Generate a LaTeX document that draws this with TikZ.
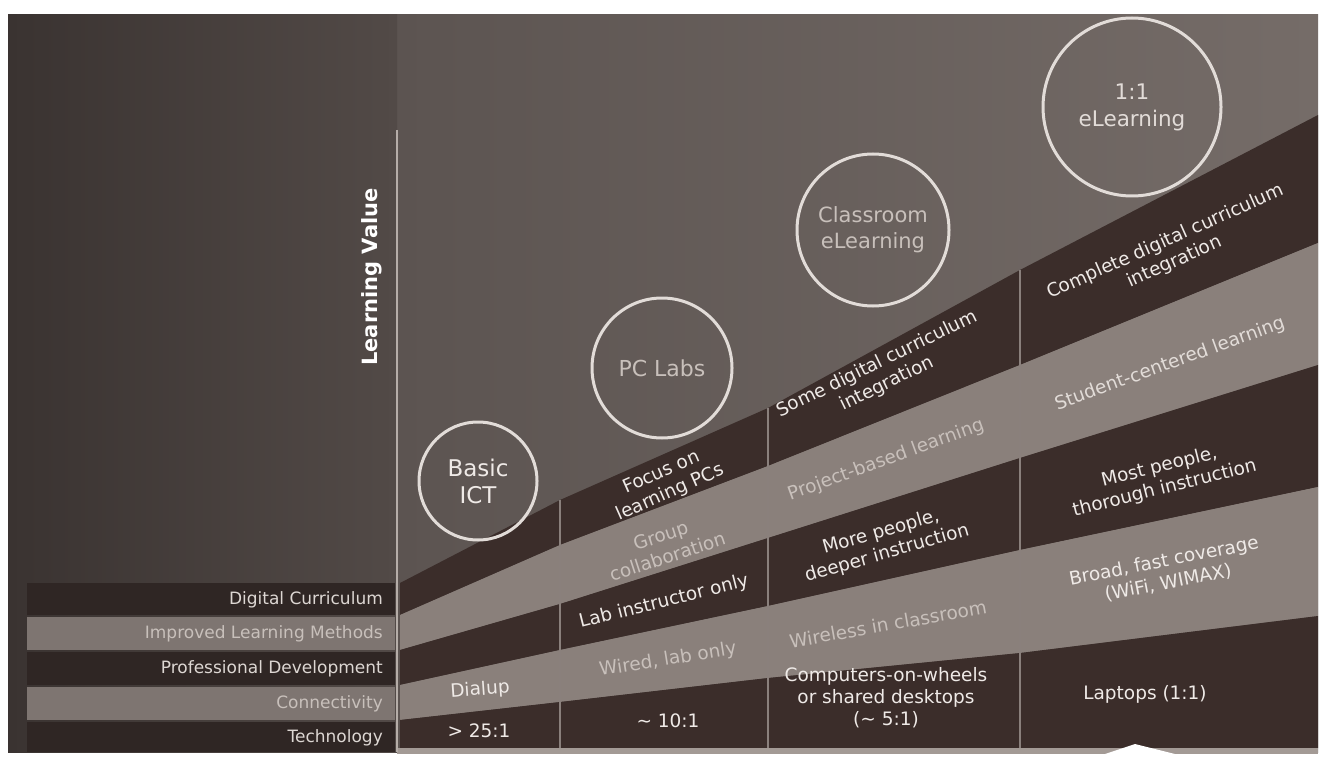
\documentclass[tikz,border=0pt]{standalone}
\usepackage{fontspec}
\setmainfont{DejaVu Sans}
\definecolor{bgmidL}{HTML}{5C5451}
\definecolor{bgmidR}{HTML}{756C68}
\definecolor{bgdark}{HTML}{3A3331}
\definecolor{bgdarkR}{HTML}{524A47}
\definecolor{bandD}{HTML}{3B2D2A}
\definecolor{bandL}{HTML}{8A807B}
\definecolor{lblD}{HTML}{2F2624}
\definecolor{lblL}{HTML}{7E7571}
\definecolor{axisc}{HTML}{B5ADA8}
\definecolor{divc}{HTML}{8A807C}
\definecolor{txtW}{HTML}{EFEAE7}
\definecolor{txtG}{HTML}{C8C0BB}
\definecolor{txtL}{HTML}{E2DCD8}
\definecolor{lblW}{HTML}{DDD7D3}
\definecolor{circc}{HTML}{E2DCD8}
\definecolor{stripc}{HTML}{A39A95}
\begin{document}
\begin{tikzpicture}[x=1pt,y=-1pt,
  bt/.style={text=txtW,font=\fontsize{18.5}{22}\selectfont,align=center,inner sep=0pt},
  lbl/.style={text=lblW,font=\fontsize{17}{20}\selectfont,anchor=east,inner sep=0pt},
  ring/.style={circle,draw=circc,line width=3pt,inner sep=0pt,align=center},
  divider/.style={draw=divc,line width=2pt}]
\useasboundingbox (0,0) rectangle (1325,762);
\fill[white] (0,0) rectangle (1325,762);
% background
\shade[left color=bgmidL,right color=bgmidR] (397,15) rectangle (1318,752);
\shade[left color=bgdark,right color=bgdarkR] (8,15) rectangle (397,752);
% band boundary points
\foreach \i/\a/\b/\c/\d/\e in {0/583/500/408/270/115,1/615/545/466/365/243,2/650/604/538/458/365,3/685/650/606/550/487,4/720/702/678/653/616,5/748/748/748/748/748}{
  \coordinate (b\i-0) at (400,\a);
  \coordinate (b\i-1) at (560,\b);
  \coordinate (b\i-2) at (768,\c);
  \coordinate (b\i-3) at (1020,\d);
  \coordinate (b\i-4) at (1318,\e);
}
\foreach \i/\j/\col in {0/1/bandD,1/2/bandL,2/3/bandD,3/4/bandL,4/5/bandD}{
  \fill[\col] (b\i-0) -- (b\i-1) -- (b\i-2) -- (b\i-3) -- (b\i-4) -- (b\j-4) -- (b\j-3) -- (b\j-2) -- (b\j-1) -- (b\j-0) -- cycle;
}
\fill[stripc] (397,748) rectangle (1318,754);
% left label bands
\fill[lblD] (27,583) rectangle (395,615);
\fill[lblL] (27,617) rectangle (395,650);
\fill[lblD] (27,652) rectangle (395,685);
\fill[lblL] (27,687) rectangle (395,720);
\fill[lblD] (27,722) rectangle (395,752);
\node[lbl] (l-dc) at (383,600) {Digital Curriculum};
\node[lbl,text=txtG] (l-ilm) at (383,634) {Improved Learning Methods};
\node[lbl] (l-pd) at (383,669) {Professional Development};
\node[lbl,text=txtG] (l-con) at (383,704) {Connectivity};
\node[lbl] (l-tech) at (383,738) {Technology};
% axis and dividers
\coordinate (ax-top) at (397,130);
\coordinate (ax-bot) at (397,752);
\draw[axisc,line width=2pt] (ax-top) -- (ax-bot);
\coordinate (d1-bot) at (560,748);
\coordinate (d2-bot) at (768,748);
\coordinate (d3-bot) at (1020,748);
\draw[divider] (b0-1) -- (d1-bot);
\draw[divider] (b0-2) -- (d2-bot);
\draw[divider] (b0-3) -- (d3-bot);
\node[rotate=90,text=white,font=\fontsize{21}{24}\selectfont\bfseries,inner sep=0pt] (lv) at (372,277) {Learning Value};
% white wedge
\fill[white] (1105,754) -- (1135,744) -- (1175,754) -- cycle;
% circles
\node[ring,minimum size=118pt,text=txtW,font=\fontsize{23}{27}\selectfont] (c-basic) at (478,481) {Basic\\ICT};
\node[ring,minimum size=140pt,text=txtG,font=\fontsize{22}{26}\selectfont] (c-pc) at (662,368) {PC Labs};
\node[ring,minimum size=152pt,text=txtG,font=\fontsize{21}{26}\selectfont] (c-class) at (873,230) {Classroom\\eLearning};
\node[ring,minimum size=178pt,text=txtL,font=\fontsize{21.5}{27}\selectfont] (c-one) at (1132,107) {1:1\\eLearning};
% column 1
\node[bt,rotate=4] (t-dial) at (480,690) {Dialup};
\node[bt] (t-25) at (479,731) {\textgreater{} 25:1};
% column 2
\node[bt,rotate=24] (t-focus) at (666,483) {Focus on\\learning PCs};
\node[bt,rotate=18,text=txtG] (t-group) at (664,546) {Group\\collaboration};
\node[bt,rotate=14] (t-lab) at (664,602) {Lab instructor only};
\node[bt,rotate=9,text=txtG] (t-wired) at (668,660) {Wired, lab only};
\node[bt] (t-10) at (668,721) {\textasciitilde{} 10:1};
% column 3
\node[bt,rotate=26] (t-some) at (882,374) {Some digital curriculum\\integration};
\node[bt,rotate=20,text=txtG] (t-proj) at (886,460) {Project-based learning};
\node[bt,rotate=16] (t-more) at (884,543) {More people,\\deeper instruction};
\node[bt,rotate=10,text=txtG] (t-wire) at (888,624) {Wireless in classroom};
\node[bt] (t-comp) at (886,698) {Computers-on-wheels\\or shared desktops\\(\textasciitilde{} 5:1)};
% column 4
\node[bt,rotate=24] (t-compl) at (1170,252) {Complete digital curriculum\\integration};
\node[bt,rotate=20,text=txtL] (t-stud) at (1170,364) {Student-centered learning};
\node[bt,rotate=14] (t-most) at (1162,478) {Most people,\\thorough instruction};
\node[bt,rotate=11] (t-broad) at (1166,572) {Broad, fast coverage\\(WiFi, WIMAX)};
\node[bt] (t-lap) at (1145,694) {Laptops (1:1)};
\end{tikzpicture}
\end{document}
